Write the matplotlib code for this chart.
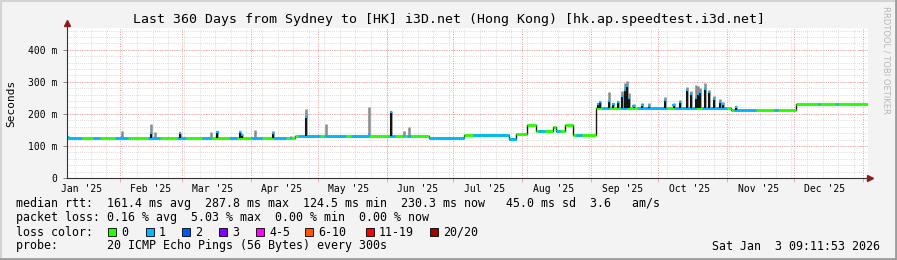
import numpy as np
import matplotlib
matplotlib.use("Agg")
import matplotlib.pyplot as plt
import matplotlib.dates as mdates
from matplotlib.patches import Rectangle
from matplotlib.lines import Line2D

# time window of the graph (last 360 days)
start = np.datetime64("2025-01-08T09:11")
end = np.datetime64("2026-01-03T09:11")

# median rtt baseline in ms, each value holds until the next date
level_dates = ["2025-01-08T09:11", "2025-04-21", "2025-06-20", "2025-07-06", "2025-07-26",
               "2025-07-29", "2025-08-03", "2025-08-07", "2025-08-15", "2025-08-16",
               "2025-08-20", "2025-08-24", "2025-09-03", "2025-11-03", "2025-12-02"]
level_ms = [124, 130, 124, 133, 123, 136, 164, 146, 160, 146, 164, 135, 217, 212, 232]

# spikes: median peak and smoke (spread) peak, ms
spike_dates = ["2025-01-09", "2025-02-02", "2025-02-15", "2025-02-17", "2025-02-28", "2025-03-14",
               "2025-03-17", "2025-03-27", "2025-03-28", "2025-04-03", "2025-04-11", "2025-04-19",
               "2025-04-26", "2025-05-05", "2025-05-24", "2025-06-03", "2025-06-09", "2025-06-11",
               "2025-09-04", "2025-09-05", "2025-09-09", "2025-09-11", "2025-09-13", "2025-09-15",
               "2025-09-16", "2025-09-17", "2025-09-18", "2025-09-20", "2025-09-24", "2025-09-27",
               "2025-10-04", "2025-10-08", "2025-10-11", "2025-10-14", "2025-10-16", "2025-10-18",
               "2025-10-19", "2025-10-20", "2025-10-22", "2025-10-24", "2025-10-26", "2025-10-29",
               "2025-10-30", "2025-11-05"]
spike_median = [128, 127, 139, 126, 139, 126, 145, 145, 134, 126, 140, 126,
                190, 132, 135, 207, 131, 131,
                230, 236, 241, 230, 236, 255, 275, 287, 250, 225, 228, 226,
                244, 228, 237, 275, 262, 250, 262, 269, 278, 267, 246, 236, 230, 220]
spike_smoke = [132, 146, 170, 143, 141, 143, 147, 147, 136, 151, 148, 132,
               214, 170, 221, 209, 148, 159,
               234, 240, 269, 235, 240, 270, 295, 304, 265, 232, 235, 233,
               252, 235, 242, 283, 272, 290, 287, 282, 296, 276, 256, 246, 236, 225]

# stretches where the median line shows 1 lost ping (blue), else 0 (green)
blue_from = ["2025-01-09", "2025-01-20", "2025-01-30", "2025-02-14", "2025-02-27", "2025-03-10",
             "2025-03-22", "2025-04-01", "2025-04-11", "2025-04-22", "2025-05-04", "2025-05-16",
             "2025-06-02", "2025-06-10", "2025-06-20", "2025-07-10", "2025-08-08", "2025-08-16",
             "2025-08-25", "2025-09-06", "2025-09-14", "2025-09-22", "2025-10-08", "2025-10-21",
             "2025-11-04", "2025-11-22", "2025-12-12", "2025-12-20"]
blue_to = ["2025-01-15", "2025-01-23", "2025-02-05", "2025-02-19", "2025-03-03", "2025-03-14",
           "2025-03-26", "2025-04-06", "2025-04-17", "2025-05-02", "2025-05-14", "2025-05-24",
           "2025-06-05", "2025-06-12", "2025-07-06", "2025-07-29", "2025-08-11", "2025-08-18",
           "2025-08-28", "2025-09-09", "2025-09-17", "2025-10-05", "2025-10-18", "2025-11-01",
           "2025-11-14", "2025-11-24", "2025-12-13", "2025-12-21"]

y_ticks = [0, 100, 200, 300, 400]
loss_labels = ["0", "1", "2", "3", "4-5", "6-10", "11-19", "20/20"]
loss_colors = ["#26ff00", "#00b8ff", "#0059ff", "#7e00ff", "#ff00ff", "#ff5500", "#ff0000", "#a10000"]

title = "Last 360 Days from Sydney to [HK] i3D.net (Hong Kong) [hk.ap.speedtest.i3d.net]"
stats_rtt = "median rtt:  161.4 ms avg  287.8 ms max  124.5 ms min  230.3 ms now   45.0 ms sd  3.6   am/s"
stats_loss = "packet loss: 0.16 % avg  5.03 % max  0.00 % min  0.00 % now"
probe = "probe:       20 ICMP Echo Pings (56 Bytes) every 300s"
stamp = "Sat Jan  3 09:11:53 2026"

W, H = 897, 260
mono = "DejaVu Sans Mono"
green, blue = loss_colors[0], loss_colors[1]


def num(d):
    return mdates.date2num(np.array(d, dtype="datetime64[m]"))


lv_x = num(level_dates)
lv_end = np.append(lv_x[1:], num(end))
lv_y = np.array(level_ms, dtype=float)


def level_at(x):
    i = np.searchsorted(lv_x, x, side="right") - 1
    return lv_y[np.clip(i, 0, len(lv_y) - 1)]


t0, t1 = num(start), num(end)
dt0, dt1 = mdates.num2date(t0), mdates.num2date(t1)

fig = plt.figure(figsize=(W / 100, H / 100), dpi=100, facecolor="#f3f3f3")
ax = fig.add_axes([67 / W, 1 - 178 / H, 801 / W, 150 / H])
ax.set_facecolor("white")
ax.set_xlim(t0, t1)
ax.set_ylim(0, 468)

# grid: grey dotted weekly / every 20 ms, red dotted monthly / every 100 ms
dots = (0, (1, 1.5))
for d in mdates.WeekdayLocator(byweekday=mdates.SU).tick_values(dt0, dt1):
    if t0 < d < t1:
        ax.axvline(d, color="#d0d0d0", lw=0.6, ls=dots, zorder=0)
for v in range(20, 468, 20):
    ax.axhline(v, color="#d0d0d0", lw=0.6, ls=dots, zorder=0)
for d in mdates.MonthLocator().tick_values(dt0, dt1):
    if t0 < d < t1:
        ax.axvline(d, color="#f09a9a", lw=0.7, ls=dots, zorder=0.5)
for v in y_ticks[1:]:
    ax.axhline(v, color="#f09a9a", lw=0.7, ls=dots, zorder=0.5)

# smoke
sx = num(spike_dates)
base = level_at(sx)
ax.vlines(sx, base, spike_smoke, color="#8a8a8a", lw=1.8, zorder=1)

# median line: dark steps, then loss-coloured stretches
ax.step(np.append(lv_x, t1), np.append(lv_y, lv_y[-1]), where="post",
        color="#1a1a1a", lw=1.0, zorder=2)
ax.hlines(lv_y, lv_x, lv_end, color=green, lw=2.0, zorder=3)
for a, b in zip(num(blue_from), num(blue_to)):
    cuts = [a] + [x for x in lv_x if a < x < b] + [b]
    for c0, c1 in zip(cuts[:-1], cuts[1:]):
        ax.hlines(level_at(c0), c0, c1, color=blue, lw=2.0, zorder=3)

ax.vlines(sx, base, spike_median, color="#141414", lw=1.5, zorder=4)
ax.hlines(spike_median, sx - 0.5, sx + 0.5, color=blue, lw=1.6, zorder=5)

# axes
for s in ax.spines.values():
    s.set_visible(False)
ax.plot([0, 0], [0, 1.035], transform=ax.transAxes, color="#333333", lw=0.8, clip_on=False, zorder=6)
ax.plot([0, 1.003], [0, 0], transform=ax.transAxes, color="#333333", lw=0.8, clip_on=False, zorder=6)
ax.plot([0], [1.035], marker="^", ms=4, color="#8b1a1a", transform=ax.transAxes, clip_on=False, zorder=7)
ax.plot([1.003], [0], marker=">", ms=4, color="#8b1a1a", transform=ax.transAxes, clip_on=False, zorder=7)

ax.set_yticks(y_ticks)
ax.set_yticklabels(["0"] + [f"{v} m" for v in y_ticks[1:]])
ax.tick_params(axis="y", direction="out", length=3, width=0.6, color="#777777", pad=4,
               labelsize=7, labelfontfamily=mono)

ax.xaxis.set_major_locator(mdates.MonthLocator())
ax.xaxis.set_major_formatter(plt.NullFormatter())
ax.xaxis.set_minor_locator(mdates.MonthLocator(bymonthday=15))
ax.xaxis.set_minor_formatter(mdates.DateFormatter("%b '%y"))
ax.tick_params(axis="x", which="major", direction="out", length=3, width=0.6, color="#f09a9a")
ax.tick_params(axis="x", which="minor", length=0, pad=4, labelsize=7, labelfontfamily=mono)

# texts
fig.text(0.5, 1 - 19 / H, title, ha="center", va="center", family=mono, fontsize=9.5)
fig.text(11 / W, 1 - 103 / H, "Seconds", rotation=90, ha="center", va="center",
         family=mono, fontsize=8)
fig.text(886 / W, 1 - 6 / H, "RRDTOOL / TOBI OETIKER", rotation=270, ha="center", va="top",
         family="DejaVu Sans", fontsize=6, color="#b8b8b8")

fs = 8.35
fig.text(16 / W, 1 - 204 / H, stats_rtt, va="center", family=mono, fontsize=fs)
fig.text(16 / W, 1 - 218 / H, stats_loss, va="center", family=mono, fontsize=fs)
fig.text(16 / W, 1 - 232 / H, "loss color:", va="center", family=mono, fontsize=fs)
fig.text(16 / W, 1 - 246 / H, probe, va="center", family=mono, fontsize=fs)
fig.text(880 / W, 1 - 246 / H, stamp, ha="right", va="center", family=mono, fontsize=fs)

sq_x = [108, 146, 182, 219, 256, 305, 366, 430]
for x, lab, col in zip(sq_x, loss_labels, loss_colors):
    fig.patches.append(Rectangle((x / W, 1 - 236 / H), 8 / W, 8 / H, transform=fig.transFigure,
                                 facecolor=col, edgecolor="black", lw=0.6))
    fig.text((x + 13) / W, 1 - 232 / H, lab, va="center", family=mono, fontsize=fs)

# frame shading
fig.add_artist(Line2D([0, 1], [1 - 1 / H, 1 - 1 / H], color="#d4d4d4", lw=1.5, transform=fig.transFigure))
fig.add_artist(Line2D([1 / W, 1 / W], [0, 1], color="#d4d4d4", lw=1.5, transform=fig.transFigure))
fig.add_artist(Line2D([0, 1], [1.5 / H, 1.5 / H], color="#9c9c9c", lw=2, transform=fig.transFigure))
fig.add_artist(Line2D([1 - 1.5 / W, 1 - 1.5 / W], [0, 1], color="#9c9c9c", lw=2, transform=fig.transFigure))

fig.savefig("out.png", dpi=100, facecolor=fig.get_facecolor())
